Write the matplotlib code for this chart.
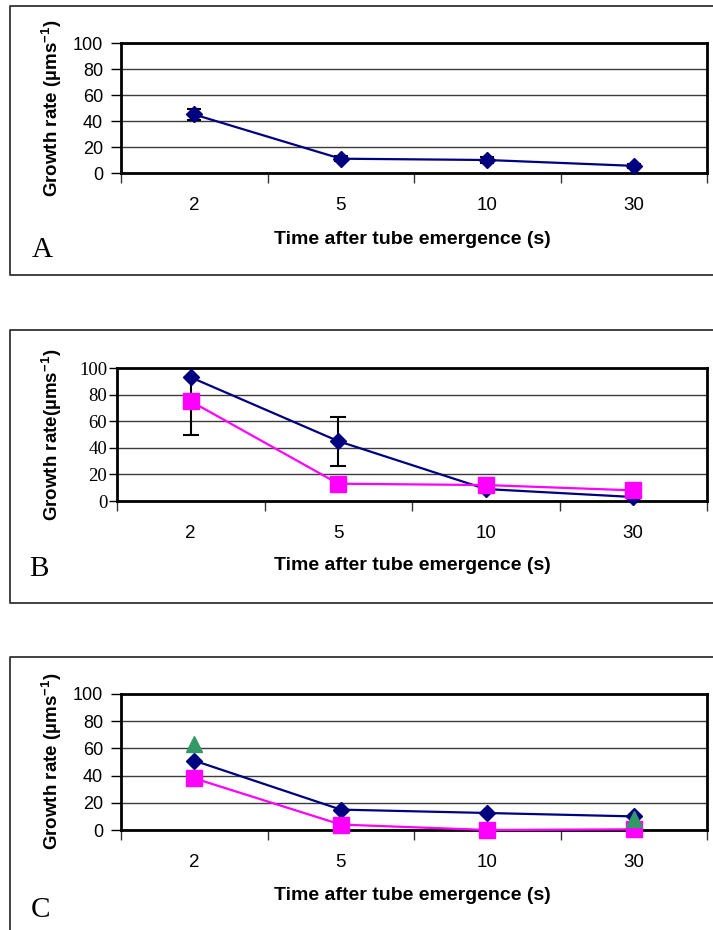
import matplotlib.pyplot as plt
from matplotlib.lines import Line2D
import numpy as np

plt.rcParams['font.family'] = ['Liberation Sans', 'DejaVu Sans']
plt.rcParams['mathtext.fontset'] = 'custom'
plt.rcParams['mathtext.rm'] = 'Liberation Sans'
plt.rcParams['mathtext.bf'] = 'Liberation Sans:bold'

times = ["2", "5", "10", "30"]

# panel A
a_navy = [45, 11, 10, 5.5]
a_navy_err = [4, 2, 2, 1.5]

# panel B
b_navy = [93, 45, 9, 3]
b_navy_err = [43, 18.5, 0, 0]
b_pink = [75, 13, 12, 8]

# panel C
c_navy = [51, 15, 12.5, 10]
c_pink = [38, 4, 0, 0.5]
c_green = [63, np.nan, np.nan, 8]

NAVY = "#000080"
PINK = "#ff00ff"
GREEN = "#339966"

W, H = 713, 930
fig = plt.figure(figsize=(W / 100, H / 100), dpi=100)


def px_axes(l, t, r, b):
    return fig.add_axes([l / W, 1 - b / H, (r - l) / W, (b - t) / H])


def fig_text(x, y, s, **kw):
    fig.text(x / W, 1 - y / H, s, ha="center", va="center", **kw)


def frame(t, b):
    # outer box around a panel (right side runs off the page)
    xs = [W + 5, 10, 10, W + 5]
    ys = [t, t, b, b]
    fig.add_artist(Line2D([x / W for x in xs], [1 - y / H for y in ys],
                          transform=fig.transFigure, color="#333333", lw=1.3))


def setup(ax, serif_ticks=False):
    x = np.arange(len(times)) + 0.5
    ax.set_xlim(0, len(times))
    ax.set_ylim(0, 100)
    ax.set_yticks(range(0, 101, 20))
    ax.yaxis.grid(True, color="#3c3c3c", lw=1)
    ax.set_axisbelow(True)
    ax.set_xticks(range(len(times) + 1))
    ax.set_xticklabels([])
    ax.set_xticks(x, minor=True)
    ax.set_xticklabels(times, minor=True, fontsize=13.5)
    ax.tick_params(axis="x", which="major", direction="out", length=7, width=1, color="#333333")
    ax.tick_params(axis="x", which="minor", length=0, pad=17)
    if serif_ticks:
        ax.tick_params(axis="y", direction="out", length=6, width=1, pad=1)
        for lab in ax.get_yticklabels():
            lab.set_fontfamily("Liberation Serif")
            lab.set_fontsize(13.5)
    else:
        ax.tick_params(axis="y", direction="out", length=7, width=1, pad=6, labelsize=13)
    for s in ax.spines.values():
        s.set_linewidth(2)
    return x


ylab = "Growth rate (µms$^{\\mathbf{-1}}$)"
ylab_b = "Growth rate(µms$^{\\mathbf{-1}}$)"
xlab = "Time after tube emergence (s)"
mk = dict(lw=1.6, clip_on=False, zorder=4)

# ---- A ----
frame(6, 275)
ax = px_axes(121, 43, 707, 173)
x = setup(ax)
ax.errorbar(x, a_navy, yerr=a_navy_err, fmt="none", ecolor="black", elinewidth=1.5, capsize=5, capthick=1.5, zorder=3)
ax.plot(x, a_navy, color=NAVY, marker="D", ms=8.5, **mk)
fig_text(52, 108, ylab, rotation=90, fontsize=13.5, fontweight="bold")
fig_text(412, 239, xlab, fontsize=14, fontweight="bold")
fig_text(42, 250, "A", fontsize=21, family="Liberation Serif")

# ---- B ----
frame(330, 603)
ax = px_axes(117, 368, 707, 501)
x = setup(ax, serif_ticks=True)
ax.errorbar(x, b_navy, yerr=b_navy_err, fmt="none", ecolor="black", elinewidth=1.5, capsize=5.5, capthick=1.5, zorder=3)
ax.plot(x, b_navy, color=NAVY, marker="D", ms=8.5, **mk)
ax.plot(x, b_pink, color=PINK, marker="s", ms=11, **mk)
fig_text(52, 435, ylab_b, rotation=90, fontsize=13.5, fontweight="bold")
fig_text(412, 565, xlab, fontsize=14, fontweight="bold")
fig_text(39, 569, "B", fontsize=21, family="Liberation Serif")

# ---- C ----
frame(657, 940)
ax = px_axes(121, 694, 707, 830)
x = setup(ax)
ax.plot(x, c_navy, color=NAVY, marker="D", ms=8.5, **mk)
ax.plot(x, c_pink, color=PINK, marker="s", ms=11, **mk)
ax.plot(x, c_green, color=GREEN, marker="^", ms=11, ls="none", clip_on=False, zorder=5)
fig_text(52, 761, ylab, rotation=90, fontsize=13.5, fontweight="bold")
fig_text(412, 895, xlab, fontsize=14, fontweight="bold")
fig_text(40, 910, "C", fontsize=21, family="Liberation Serif")

fig.savefig("out.png", dpi=100)
